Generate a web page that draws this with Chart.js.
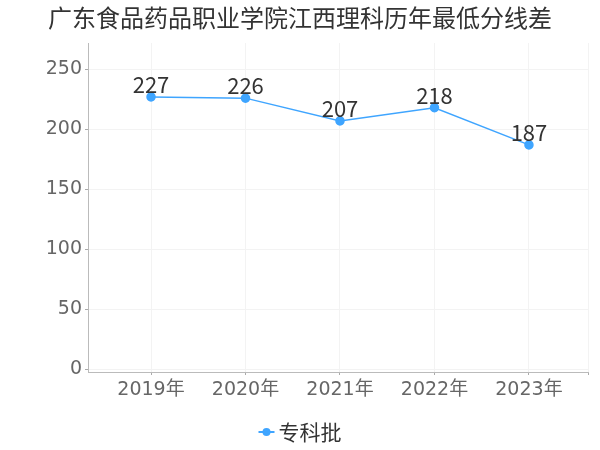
<!DOCTYPE html>
<html>
<head>
<meta charset="utf-8">
<script src="https://cdn.jsdelivr.net/npm/chart.js@4/dist/chart.umd.min.js"></script>
<style>
  html, body { margin: 0; padding: 0; background: #fff; }
  #wrap { width: 600px; height: 450px; }
</style>
</head>
<body>
<div id="wrap"><canvas id="chart"></canvas></div>
<script>
const titleText = '广东食品药品职业学院江西理科历年最低分线差';
const years = ['2019年', '2020年', '2021年', '2022年', '2023年'];
const scores = [227, 226, 207, 218, 187];
const yTicks = [0, 50, 100, 150, 200, 250];
const seriesName = '专科批';
const lineColor = '#3fa5ff';

const cjk = '"Noto Sans CJK SC", "Noto Sans", sans-serif';
const num = '"DejaVu Sans", "Noto Sans CJK SC", sans-serif';

// title centred on the whole canvas
const canvasTitle = {
    id: 'canvasTitle',
    afterDraw(chart) {
        const ctx = chart.ctx;
        ctx.save();
        ctx.font = '24px ' + cjk;
        ctx.fillStyle = '#333';
        ctx.textAlign = 'center';
        ctx.textBaseline = 'middle';
        ctx.fillText(titleText, chart.width / 2, 18);
        ctx.restore();
    }
};

// value labels above each point
const pointLabels = {
    id: 'pointLabels',
    afterDatasetsDraw(chart) {
        const ctx = chart.ctx;
        const meta = chart.getDatasetMeta(0);
        ctx.save();
        ctx.font = '22px ' + cjk;
        ctx.fillStyle = '#333';
        ctx.textAlign = 'center';
        ctx.textBaseline = 'bottom';
        meta.data.forEach((pt, i) => {
            ctx.fillText(String(scores[i]), pt.x, pt.y - 1);
        });
        ctx.restore();
    }
};

// legend: short line with a dot, then the series name
const lineLegend = {
    id: 'lineLegend',
    afterDraw(chart) {
        const ctx = chart.ctx;
        ctx.save();
        ctx.font = '21px ' + cjk;
        const tw = ctx.measureText(seriesName).width;
        const total = 16 + 4 + tw;
        const x0 = (chart.width - total) / 2;
        const y = 432;
        ctx.strokeStyle = lineColor;
        ctx.lineWidth = 2;
        ctx.beginPath();
        ctx.moveTo(x0, y);
        ctx.lineTo(x0 + 16, y);
        ctx.stroke();
        ctx.fillStyle = lineColor;
        ctx.beginPath();
        ctx.arc(x0 + 8, y, 4, 0, Math.PI * 2);
        ctx.fill();
        ctx.fillStyle = '#333';
        ctx.textBaseline = 'middle';
        ctx.fillText(seriesName, x0 + 20, y);
        ctx.restore();
    }
};

new Chart(document.getElementById('chart'), {
    type: 'line',
    data: {
        datasets: [{
            label: seriesName,
            data: scores.map((v, i) => ({ x: i, y: v })),
            borderColor: lineColor,
            backgroundColor: lineColor,
            borderWidth: 1.5,
            pointRadius: 4,
            pointHoverRadius: 4,
            tension: 0
        }]
    },
    options: {
        responsive: true,
        maintainAspectRatio: false,
        animation: false,
        layout: { padding: { top: 43, left: 0, right: 12, bottom: 38 } },
        plugins: {
            legend: { display: false },
            tooltip: { enabled: false },
            title: { display: false }
        },
        scales: {
            x: {
                type: 'linear',
                min: -0.667,
                max: 4.625,
                afterFit: s => { s.height = 40; },
                afterBuildTicks: s => {
                    s.ticks = years.map((_, i) => ({ value: i })).concat([{ value: 4.625 }]);
                },
                grid: { color: '#f3f3f3', tickLength: 3, tickColor: '#aaa' },
                border: { color: '#bbb' },
                ticks: {
                    autoSkip: false,
                    maxRotation: 0,
                    color: '#666',
                    font: { family: num, size: 19 },
                    padding: 4,
                    callback: v => Number.isInteger(v) ? years[v] : ''
                }
            },
            y: {
                min: -2.5,
                max: 272,
                afterFit: s => { s.width = 88; },
                afterBuildTicks: s => {
                    s.ticks = yTicks.map(v => ({ value: v }));
                },
                grid: { color: '#f3f3f3', tickLength: 3, tickColor: '#aaa' },
                border: { color: '#bbb' },
                ticks: {
                    color: '#666',
                    font: { family: num, size: 19 },
                    padding: 3,
                    callback: v => v
                }
            }
        }
    },
    plugins: [canvasTitle, pointLabels, lineLegend]
});
</script>
</body>
</html>
